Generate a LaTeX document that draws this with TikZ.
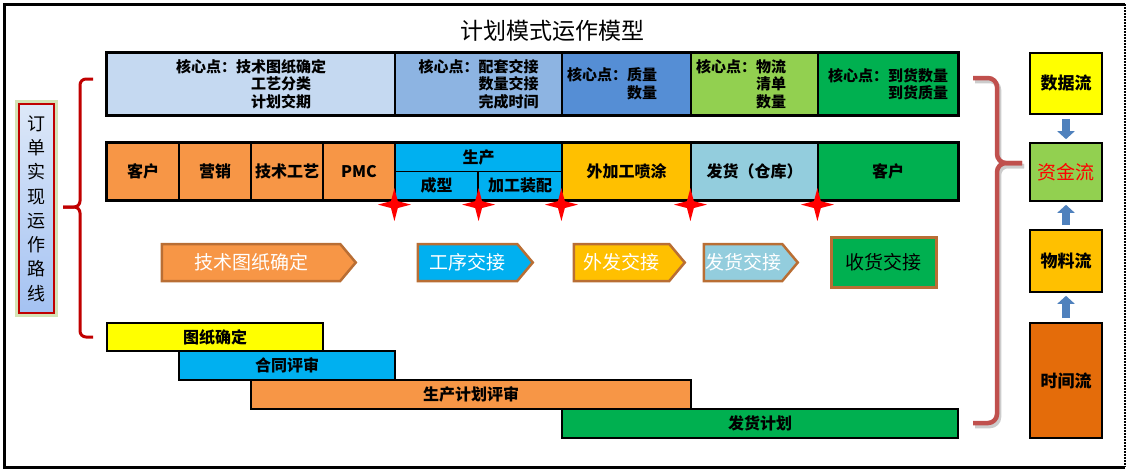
\documentclass[tikz,border=0pt]{standalone}
\usepackage{fontspec}
\newfontfamily\cjk{Noto Sans CJK SC}
\usetikzlibrary{shapes.geometric,shapes.symbols,arrows.meta}

\definecolor{kpA}{HTML}{C5D9F1}
\definecolor{kpB}{HTML}{8DB4E2}
\definecolor{kpC}{HTML}{558ED5}
\definecolor{kpD}{HTML}{92D050}
\definecolor{grn}{HTML}{00B050}
\definecolor{orng}{HTML}{F79646}
\definecolor{cyn}{HTML}{00B0F0}
\definecolor{ambr}{HTML}{FFC000}
\definecolor{skyb}{HTML}{93CDDD}
\definecolor{ylw}{HTML}{FFFF00}
\definecolor{dorng}{HTML}{E46C0A}
\definecolor{rim}{HTML}{B96E34}
\definecolor{braceL}{HTML}{C00000}
\definecolor{braceR}{HTML}{C0504D}
\definecolor{flowblue}{HTML}{4F81BD}
\definecolor{routeT}{HTML}{DDE8F8}
\definecolor{routeB}{HTML}{A4C2F2}
\definecolor{glow}{HTML}{D4E3B5}

\begin{document}
\begin{tikzpicture}[
        x=1pt, y=-1pt,
        >=latex,
        cell/.style={
            draw, line width=1.2pt, inner sep=0pt,
            align=center, font=\cjk\bfseries\fontsize{16}{18}\selectfont
        },
        keypt/.style={cell, minimum height=62, font=\cjk\bfseries\fontsize{15}{17.5}\selectfont},
        keyleft/.style={keypt, align=left, inner xsep=5pt},
        proc/.style={cell, minimum height=57},
        half/.style={cell, minimum height=28.5},
        spark/.style={star, star points=4, star point ratio=3.4, minimum size=33, inner sep=0pt, fill=red},
        handoff/.style={
            signal, signal to=east, signal pointer angle=100,
            draw=rim, line width=2.5pt, minimum height=37, inner sep=0pt,
            text=white, font=\cjk\fontsize{19}{21}\selectfont
        },
        bar/.style={cell, line width=1.6pt, minimum height=28.5, font=\cjk\bfseries\fontsize{16}{18}\selectfont},
        flowbox/.style={cell, line width=1.6pt, minimum width=72, font=\cjk\bfseries\fontsize{17}{19}\selectfont},
        flow/.style={-{Triangle[length=8pt,width=17pt]}, line width=8pt, draw=flowblue, shorten <=4pt, shorten >=3pt},
        lbrace/.style={draw=braceL, line width=3pt, rounded corners=6pt},
        rbrace/.style={draw=braceR, line width=4.5pt, rounded corners=9pt}
    ]

    % 1. Marco y título
    \useasboundingbox (0,0) rectangle (1130,472);
    \draw[line width=3pt] (1125,4) -- (4,4) -- (4,467) -- (1125,467);
    \draw[line width=2pt, densely dotted] (1125,4) -- (1125,467);
    \node[font=\cjk\fontsize{23}{26}\selectfont] (title) at (552,31) {计划模式运作模型};

    % 2. Fila de puntos clave
    \node[keypt, fill=kpA, minimum width=288] (kp1) at (251,84)
        {核心点：技术图纸确定\\\phantom{核心点：}工艺分类\\\phantom{核心点：}计划交期};
    \node[keypt, fill=kpB, minimum width=167] (kp2) at (478.5,84)
        {核心点：配套交接\\\phantom{核心点：}数量交接\\\phantom{核心点：}完成时间};
    \node[keyleft, fill=kpC, text width=119] (kp3) at (626.5,84)
        {核心点：质量\\\phantom{核心点：}数量};
    \node[keyleft, fill=kpD, text width=117] (kp4) at (754.5,84)
        {核心点：物流\\\phantom{核心点：}清单\\\phantom{核心点：}数量};
    \node[keypt, fill=grn, minimum width=140] (kp5) at (888,84)
        {核心点：到货数量\\\phantom{核心点：}到货质量};
    \draw[line width=3pt] (kp1.north west) rectangle (kp5.south east);

    % 3. Fila de procesos
    \node[proc, fill=orng, minimum width=72] (p1) at (143,171.5) {客户};
    \node[proc, fill=orng, minimum width=72] (p2) at (215,171.5) {营销};
    \node[proc, fill=orng, minimum width=72] (p3) at (287,171.5) {技术工艺};
    \node[proc, fill=orng, minimum width=72] (p4) at (359,171.5) {PMC};
    \node[half, fill=cyn, minimum width=167] (prod) at (478.5,157.25) {生产};
    \node[half, fill=cyn, minimum width=83] (form) at (436.5,185.75) {成型};
    \node[half, fill=cyn, minimum width=84] (asm) at (520,185.75) {加工装配};
    \node[proc, fill=ambr, minimum width=129] (coat) at (626.5,171.5) {外加工喷涂};
    \node[proc, fill=skyb, minimum width=127] (ship) at (754.5,171.5) {发货（仓库）};
    \node[proc, fill=grn, minimum width=140] (cust) at (888,171.5) {客户};
    \draw[line width=3pt] (p1.north west) rectangle (cust.south east);

    % Estrellas rojas en las entregas
    \node[spark] (s1) at ([yshift=-4pt]prod.south west |- p1.south) {};
    \node[spark] (s2) at ([yshift=-4pt]form.south east) {};
    \node[spark] (s3) at ([yshift=-4pt]coat.south west) {};
    \node[spark] (s4) at ([yshift=-4pt]ship.south west) {};
    \node[spark] (s5) at ([yshift=-4pt]cust.south west) {};

    % 4. Flechas de traspaso
    \node[handoff, fill=orng, minimum width=194] (h1) at (251,262.5) {技术图纸确定};
    \node[handoff, fill=cyn, minimum width=115] (h2) at (467.5,262.5) {工序交接};
    \node[handoff, fill=ambr, minimum width=111] (h3) at (621.5,262.5) {外发交接};
    \node[handoff, fill=skyb, minimum width=94] (h4) at (743,262.5) {发货交接};
    \node[draw=rim, line width=3pt, fill=grn, minimum width=105, minimum height=50,
        inner sep=0pt, font=\cjk\fontsize{19}{21}\selectfont] (h5) at (883.5,262) {收货交接};

    % 5. Barras de planificación
    \node[bar, fill=ylw, minimum width=216] (g1) at (215,337) {图纸确定};
    \node[bar, fill=cyn, minimum width=216] (g2) at (287,365.5) {合同评审};
    \node[bar, fill=orng, minimum width=440] (g3) at (471,394.5) {生产计划评审};
    \node[bar, fill=grn, minimum width=396] (g4) at (760,423.5) {发货计划};

    % 6. Etiqueta lateral y llave izquierda
    \node[draw=braceL, line width=2.5pt, top color=routeT, bottom color=routeB,
        preaction={draw=glow, line width=8pt},
        minimum width=35, minimum height=209, inner sep=0pt, align=center,
        font=\cjk\fontsize{18}{24.3}\selectfont] (route) at (36.5,208.5)
        {订\\单\\实\\现\\运\\作\\路\\线};
    \draw[lbrace] (93,79) -| (80,207) -- (63,207);
    \draw[lbrace] (63,207) -| (80,337) -- (93,337);

    % 7. Flujos a la derecha
    \node[flowbox, fill=ylw, minimum height=61] (data) at (1066,83.5) {数据流};
    \node[flowbox, fill=kpD, minimum height=58, text=red,
        font=\cjk\fontsize{19}{21}\selectfont] (fund) at (1066,172) {资金流};
    \node[flowbox, fill=ambr, minimum height=62] (mat) at (1066,261) {物料流};
    \node[flowbox, fill=dorng, minimum height=115] (time) at (1066,380.5) {时间流};
    \draw[flow] (data.south) -- (fund.north);
    \draw[flow] (mat.north) -- (fund.south);
    \draw[flow] (time.north) -- (mat.south);

    % Llave derecha con sombra
    \begin{scope}[shift={(2,3)}]
        \draw[rbrace, draw=black!20] (973,78) -| (997,163) -- (1022,163);
        \draw[rbrace, draw=black!20] (1022,163) -| (997,423) -- (973,423);
    \end{scope}
    \draw[rbrace] (973,78) -| (997,163) -- (1022,163);
    \draw[rbrace] (1022,163) -| (997,423) -- (973,423);

\end{tikzpicture}
\end{document}
